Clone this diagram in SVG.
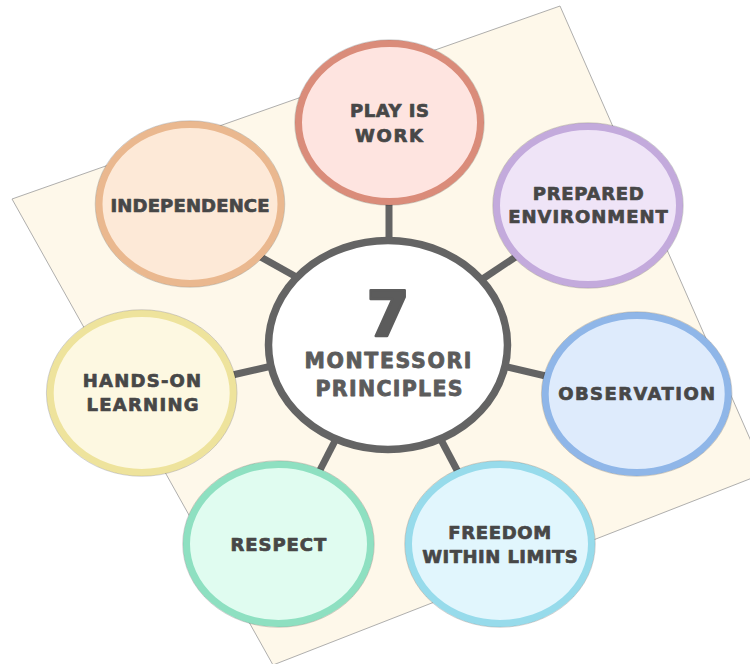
<svg xmlns="http://www.w3.org/2000/svg" width="750" height="664" viewBox="0 0 750 664">
  <style>
    .conn { stroke: #646464; stroke-width: 7; stroke-linecap: butt; fill: none; }
    .node { stroke-width: 7; }
    .rim { fill: none; stroke: rgba(0,0,0,0.22); stroke-width: 0.8; }
    .lbl { font-family: "DejaVu Sans", "Liberation Sans", sans-serif; font-weight: bold; font-size: 18px; fill: #474747; stroke: #474747; stroke-width: 0.7; stroke-linejoin: round; text-anchor: middle; }
    .hub { font-family: "DejaVu Sans", "Liberation Sans", sans-serif; font-weight: bold; fill: #5c5c5c; stroke: #5c5c5c; stroke-linejoin: round; text-anchor: middle; }
  </style>

  <!-- tilted paper sheet behind the diagram -->
  <polygon id="sheet" points="12,199 560,6 765,473 273,665" fill="#FEF8EA" stroke="#9a9a9a" stroke-width="0.8"/>

  <!-- spokes from the hub to each principle -->
  <g id="connectors">
    <line class="conn" x1="389" y1="200" x2="389" y2="242"/>
    <line class="conn" x1="250" y1="251" x2="300" y2="279"/>
    <line class="conn" x1="523" y1="252" x2="478" y2="282"/>
    <line class="conn" x1="228" y1="376" x2="272" y2="366"/>
    <line class="conn" x1="503" y1="366" x2="550" y2="377"/>
    <line class="conn" x1="439" y1="436" x2="458" y2="472"/>
    <line class="conn" x1="337" y1="437" x2="319" y2="472"/>
  </g>

  <g id="hub">
    <ellipse cx="388" cy="345" rx="119.5" ry="104.5" fill="#ffffff" stroke="#646464" stroke-width="7.5"/>
    <text class="hub" x="388" y="336" font-size="62" stroke-width="2.5">7</text>
    <text class="hub" x="388" y="368.3" font-size="20.5" stroke-width="0.8" textLength="167" lengthAdjust="spacing">MONTESSORI</text>
    <text class="hub" x="389" y="395.7" font-size="20.5" stroke-width="0.8" textLength="147" lengthAdjust="spacing">PRINCIPLES</text>
  </g>

  <g id="play-is-work">
    <ellipse class="node" cx="389.5" cy="122.5" rx="91" ry="79" fill="#FEE4E0" stroke="#DA8C7A"/>
    <ellipse class="rim" cx="389.5" cy="122.5" rx="94.8" ry="82.8"/>
    <text class="lbl" x="389.5" y="117.3" textLength="79" lengthAdjust="spacing">PLAY IS</text>
    <text class="lbl" x="389" y="142.3" textLength="68" lengthAdjust="spacing">WORK</text>
  </g>

  <g id="independence">
    <ellipse class="node" cx="190" cy="204" rx="91" ry="79.5" fill="#FDE9D7" stroke="#EAB88F"/>
    <ellipse class="rim" cx="190" cy="204" rx="94.8" ry="83.3"/>
    <text class="lbl" x="190" y="211.7" textLength="159" lengthAdjust="spacing">INDEPENDENCE</text>
  </g>

  <g id="prepared-environment">
    <ellipse class="node" cx="588" cy="205.5" rx="91.5" ry="79" fill="#EFE4F7" stroke="#C3AADC"/>
    <ellipse class="rim" cx="588" cy="205.5" rx="95.3" ry="82.8"/>
    <text class="lbl" x="588.3" y="200" textLength="111" lengthAdjust="spacing">PREPARED</text>
    <text class="lbl" x="588" y="223.3" textLength="159.6" lengthAdjust="spacing">ENVIRONMENT</text>
  </g>

  <g id="observation">
    <ellipse class="node" cx="636.7" cy="394" rx="91.5" ry="78.5" fill="#DEEBFC" stroke="#8FB6E8"/>
    <ellipse class="rim" cx="636.7" cy="394" rx="95.3" ry="82.3"/>
    <text class="lbl" x="636.7" y="400.3" textLength="157" lengthAdjust="spacing">OBSERVATION</text>
  </g>

  <g id="freedom-within-limits">
    <ellipse class="node" cx="500" cy="544" rx="91.5" ry="79.5" fill="#E1F6FD" stroke="#97DBEB"/>
    <ellipse class="rim" cx="500" cy="544" rx="95.3" ry="83.3"/>
    <text class="lbl" x="499.7" y="539.3" textLength="103" lengthAdjust="spacing">FREEDOM</text>
    <text class="lbl" x="500" y="562.7" textLength="155.6" lengthAdjust="spacing">WITHIN LIMITS</text>
  </g>

  <g id="respect">
    <ellipse class="node" cx="278.5" cy="544" rx="92" ry="79.5" fill="#E0FCF0" stroke="#8EE0C1"/>
    <ellipse class="rim" cx="278.5" cy="544" rx="95.8" ry="83.3"/>
    <text class="lbl" x="278.4" y="551" textLength="95.7" lengthAdjust="spacing">RESPECT</text>
  </g>

  <g id="hands-on-learning">
    <ellipse class="node" cx="141.7" cy="393" rx="91.5" ry="79.5" fill="#FDF8E1" stroke="#EEE39C"/>
    <ellipse class="rim" cx="141.7" cy="393" rx="95.3" ry="83.3"/>
    <text class="lbl" x="142" y="387" textLength="118.4" lengthAdjust="spacing">HANDS-ON</text>
    <text class="lbl" x="142.5" y="411.3" textLength="112" lengthAdjust="spacing">LEARNING</text>
  </g>
</svg>
